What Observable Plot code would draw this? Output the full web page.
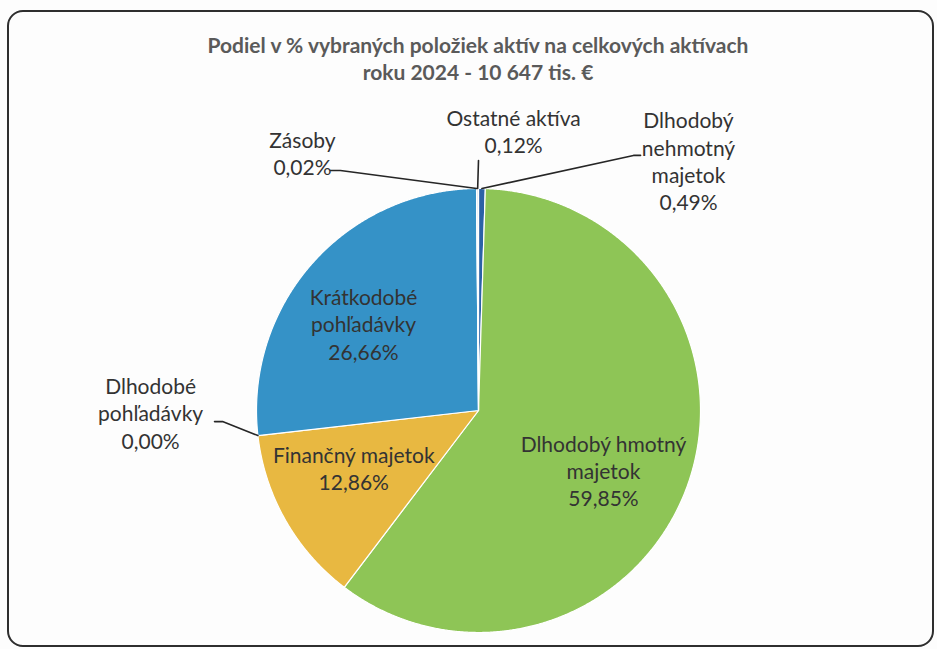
<!DOCTYPE html>
<html><head><meta charset="utf-8">
<script src="https://cdn.jsdelivr.net/npm/d3@7"></script>
<script src="https://cdn.jsdelivr.net/npm/@observablehq/plot@0.6"></script>
<style>
body{margin:0;background:#fff;}
#wrap{position:relative;width:937px;height:649px;overflow:hidden;background:#fdfdfd;font-family:Lato,"Open Sans",sans-serif;}
#frame{position:absolute;left:7px;top:10px;width:923px;height:633px;border:2px solid #2e2e2e;border-radius:16px;}
#title{position:absolute;left:0;top:31px;width:956px;text-align:center;font-weight:bold;font-size:21px;line-height:27px;color:#5a5a5a;}
#chart{position:absolute;left:0;top:95px;}
</style></head>
<body><div id="wrap"><div id="frame"></div>
<div id="title">Podiel v % vybraných položiek aktív na celkových aktívach<br>roku 2024 - 10 647 tis. €</div>
<div id="chart"></div></div>
<script>
// ---- data ----
const categories = ["Dlhodobý nehmotný majetok", "Dlhodobý hmotný majetok", "Finančný majetok", "Dlhodobé pohľadávky", "Krátkodobé pohľadávky", "Zásoby", "Ostatné aktíva"];
const shares = [0.49, 59.85, 12.86, 0.00, 26.66, 0.02, 0.12];
const labelNames = [["Dlhodobý", "nehmotný", "majetok"], ["Dlhodobý hmotný", "majetok"], ["Finančný majetok"], ["Dlhodobé", "pohľadávky"], ["Krátkodobé", "pohľadávky"], ["Zásoby"], ["Ostatné aktíva"]];
const sliceColors = ["#2b62a6", "#8ec556", "#e8b841", "#9aa5b0", "#3592c7", "#b9c3cc", "#c8d6e2"];

// ---- layout (label placement in radius units, relative to pie centre) ----
const labelLayout = [
  {text: [0.946, -1.126], leader: [[0.698, -1.149], [0.730, -1.149]]},
  {text: [0.563, 0.270]},
  {text: [-0.562, 0.257]},
  {text: [-1.477, 0.009], leader: [[-1.153, 0.050], [-1.189, 0.050]]},
  {text: [-0.518, -0.392]},
  {text: [-0.793, -1.162], leader: [[-0.622, -1.081], [-0.667, -1.081]]},
  {text: [0.158, -1.26], leader: [[0.0, -1.126]]}
];

const W = 937, H = 554, R = 222, CX = 478, CY = 315;
const fmt = v => v.toFixed(2).replace(".", ",") + "%";

const arcs = d3.pie().sort(null).startAngle(0).endAngle(2 * Math.PI)(shares);
const slicePts = [];
const leaderPts = [];
const labelRows = [];
arcs.forEach((a, i) => {
  const name = categories[i];
  if (a.endAngle - a.startAngle > 0) {
    slicePts.push({name, x: 0, y: 0});
    const n = Math.max(2, Math.ceil((a.endAngle - a.startAngle) / 0.005));
    for (let k = 0; k <= n; k++) {
      const t = a.startAngle + (a.endAngle - a.startAngle) * k / n;
      slicePts.push({name, x: Math.sin(t), y: -Math.cos(t)});
    }
  }
  const L = labelLayout[i];
  if (L.leader) {
    const m = (a.startAngle + a.endAngle) / 2;
    leaderPts.push({name, x: Math.sin(m), y: -Math.cos(m)});
    L.leader.forEach(p => leaderPts.push({name, x: p[0], y: p[1]}));
  }
  labelRows.push({name, x: L.text[0], y: L.text[1], text: [...labelNames[i], fmt(shares[i])].join("\n")});
});

const chart = Plot.plot({
  width: W, height: H, margin: 0,
  style: {background: "transparent", fontFamily: "Lato, 'Open Sans', sans-serif"},
  x: {domain: [-CX / R, (W - CX) / R], range: [0, W], axis: null},
  y: {domain: [-CY / R, (H - CY) / R], range: [0, H], axis: null},
  color: {domain: categories, range: sliceColors},
  marks: [
    Plot.line(slicePts, {x: "x", y: "y", z: "name", fill: "name", stroke: "#ffffff", strokeWidth: 1.2, curve: "linear-closed"}),
    Plot.line(leaderPts, {x: "x", y: "y", z: "name", stroke: "#262626", strokeWidth: 1.6}),
    Plot.text(labelRows, {x: "x", y: "y", text: "text", fill: "#333333", fontSize: 21, lineHeight: 1.3, textAnchor: "middle"})
  ]
});
document.getElementById("chart").appendChild(chart);
</script>
</body></html>
